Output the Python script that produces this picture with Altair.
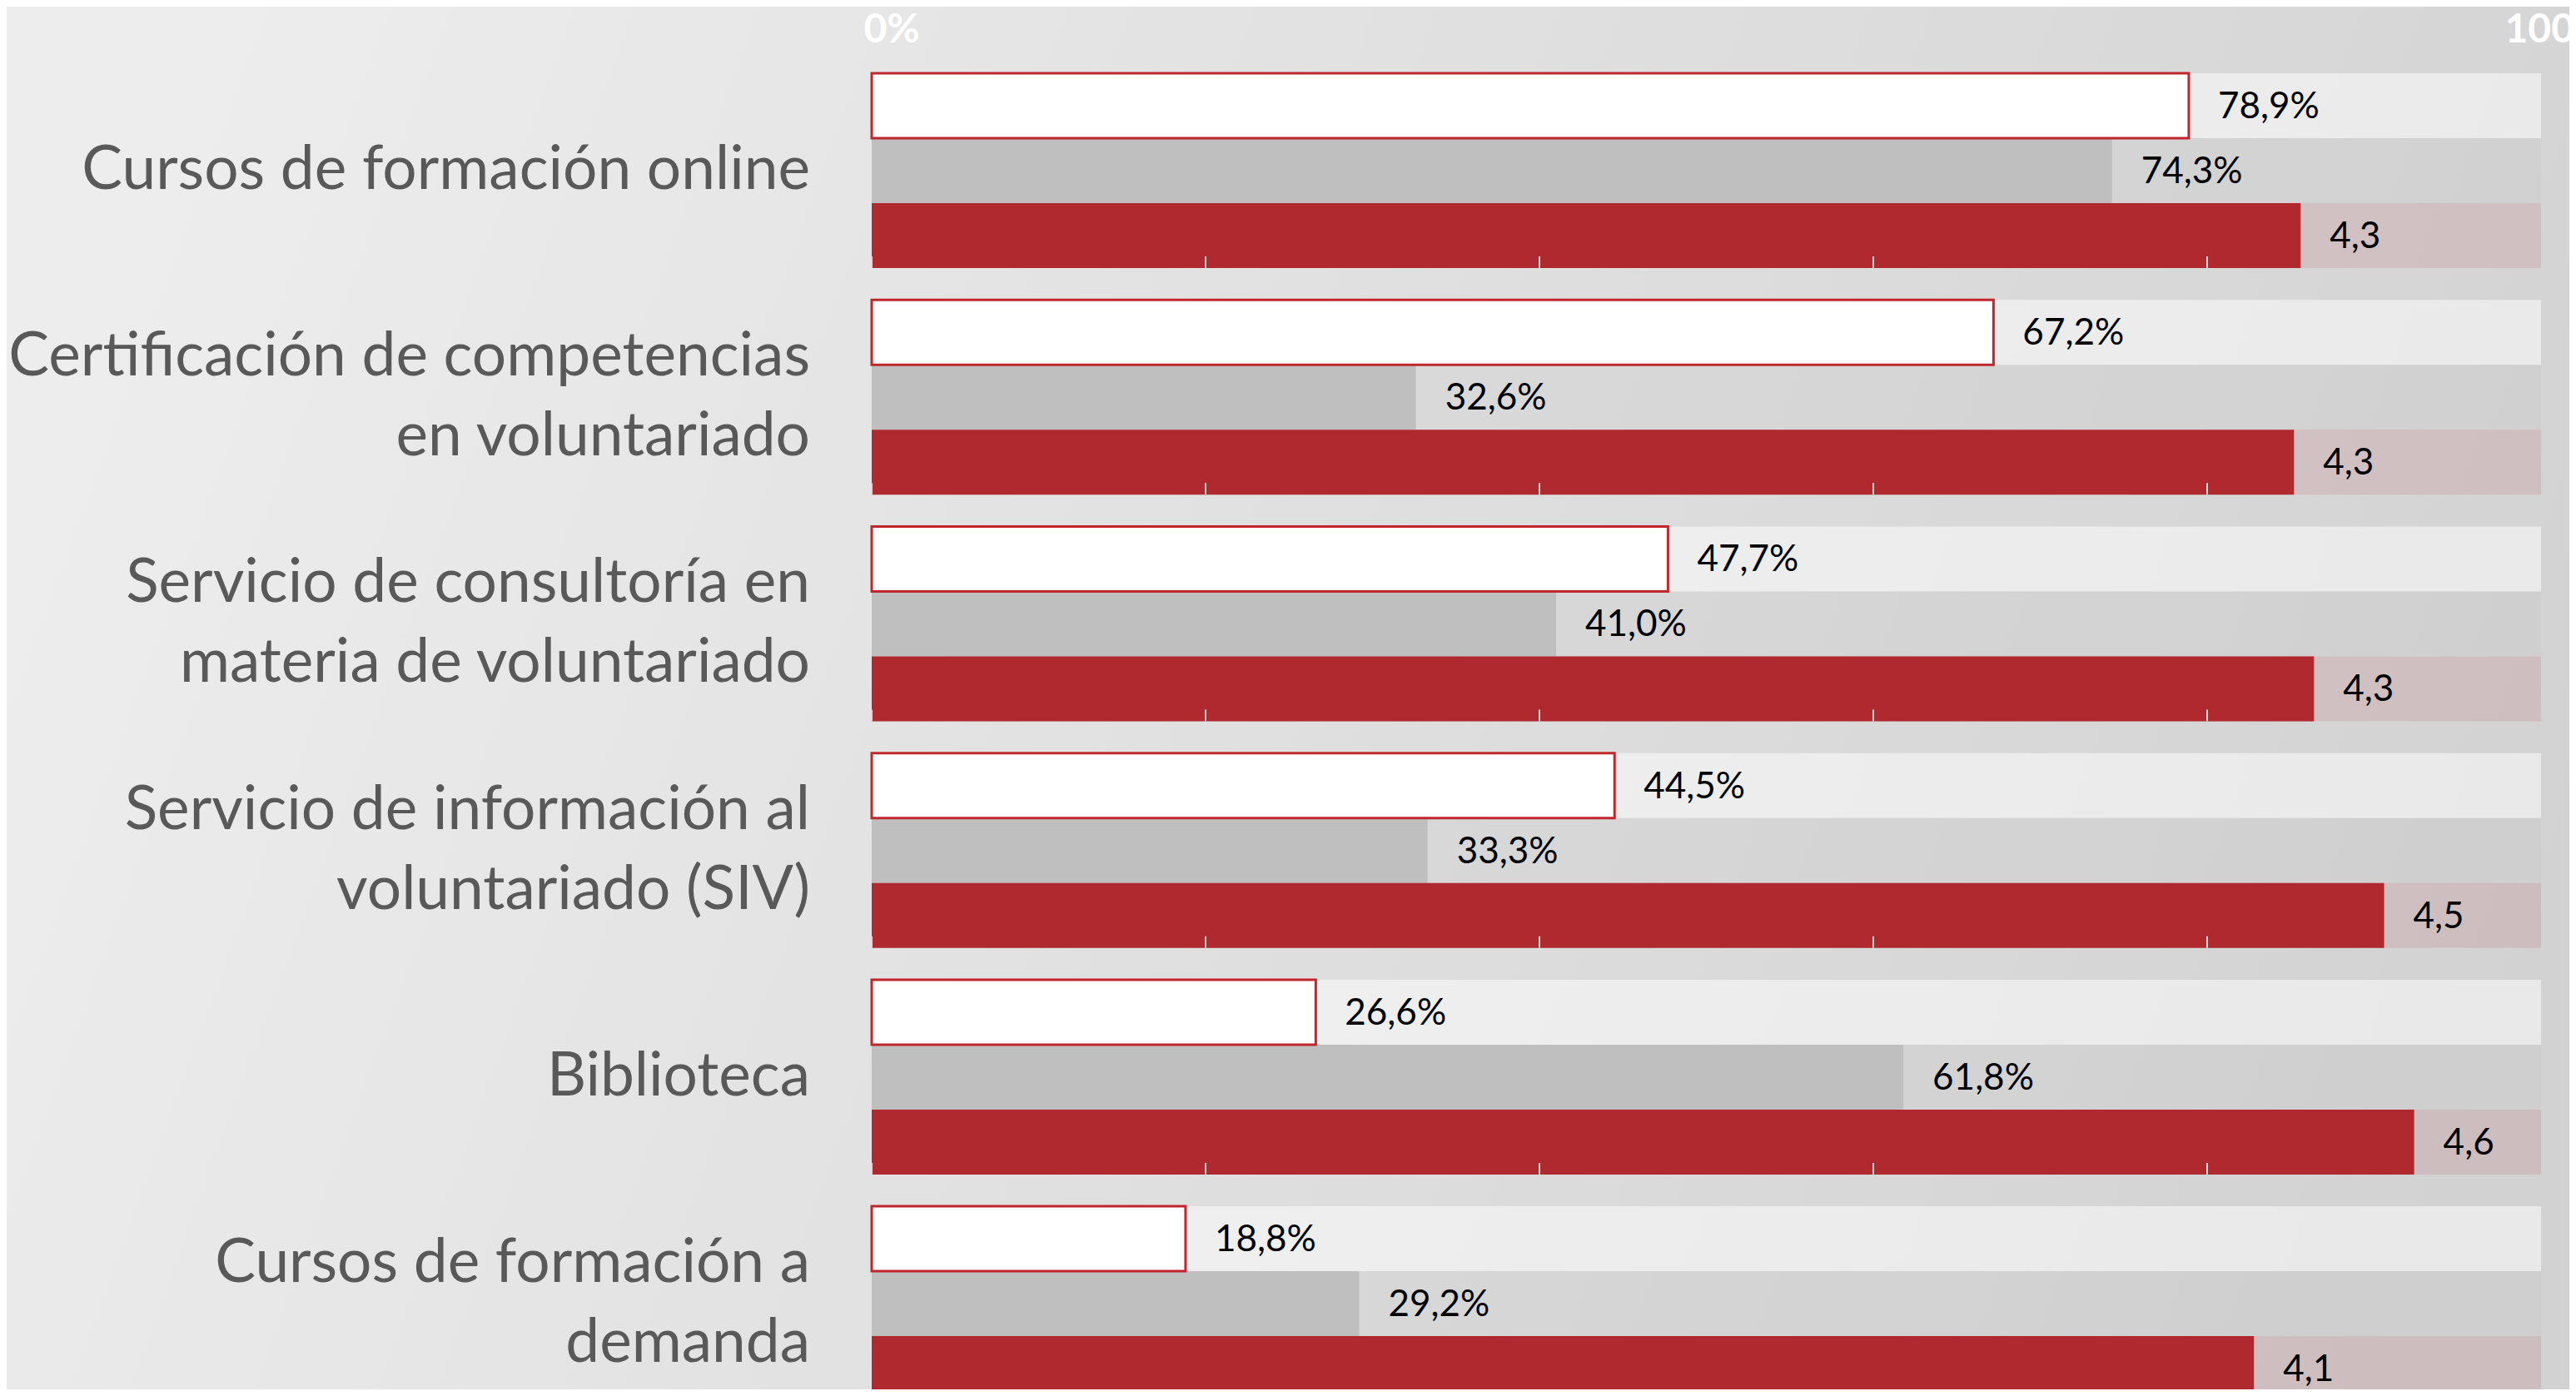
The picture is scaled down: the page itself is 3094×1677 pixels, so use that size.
import altair as alt
import pandas as pd

# ---------------- data ----------------
categories = [
    "Cursos de formación online",
    "Certificación de competencias\nen voluntariado",
    "Servicio de consultoría en\nmateria de voluntariado",
    "Servicio de información al\nvoluntariado (SIV)",
    "Biblioteca",
    "Cursos de formación a\ndemanda",
]
white_pct = [78.9, 67.2, 47.7, 44.5, 26.6, 18.8]   # white bars (%)
gray_pct = [74.3, 32.6, 41.0, 33.3, 61.8, 29.2]    # grey bars (%)
scores = [4.28, 4.26, 4.32, 4.53, 4.62, 4.14]      # red bars (scale 0-5)
score_ticks = [0, 1, 2, 3, 4]
axis_pct = [0, 100]

# ---------------- layout ----------------
GAP = 0.49            # gap between groups, in bar heights
PITCH = 3 + GAP
UNIT_PX = 78          # one bar height in px
W = 2005
H = 1581
D = H / UNIT_PX
PAD_L, PAD_T, PAD_R = 1039, 80, 34
CAT_SIZE = 73
CAT_LH = 96


def fmt(v):
    return f"{v:.1f}".replace(".", ",")


bar_rows, track_rows, cat_rows, tick_rows = [], [], [], []
for g, cat in enumerate(categories):
    top = g * PITCH
    for j, (val, lab) in enumerate([
        (white_pct[g], fmt(white_pct[g]) + "%"),
        (gray_pct[g], fmt(gray_pct[g]) + "%"),
        (scores[g], fmt(scores[g])),
    ]):
        bar_rows.append(dict(cat=cat, j=j, x0=0, val=val, label=lab,
                             y0=top + j, y1=top + j + 1, ym=top + j + 0.5))
        track_rows.append(dict(j=j, x0=0, x1=100, y0=top + j, y1=top + j + 1))
    cat_rows.append(dict(cat=cat, ym=top + 1.5, lines=cat.count("\n") + 1))
    for t in score_ticks:
        tick_rows.append(dict(t=t, ya=top + 3 - 14 / UNIT_PX, yb=top + 3))

bars = pd.DataFrame(bar_rows)
tracks = pd.DataFrame(track_rows)
cats = pd.DataFrame(cat_rows)
ticks = pd.DataFrame(tick_rows)

FONT = "Lato"
pct_scale = alt.Scale(domain=[0, 100], nice=False, zero=False)
score_scale = alt.Scale(domain=[0, 5], nice=False, zero=False)
yscale = alt.Scale(domain=[0, D], reverse=True, nice=False, zero=False)

Y0 = alt.Y("y0:Q", scale=yscale, axis=None)
YM = alt.Y("ym:Q", scale=yscale, axis=None)

# background gradient
bg = alt.Chart(pd.DataFrame({"a": [0]})).mark_rect(
    clip=False,
    fill=alt.Gradient(
        gradient="linear",
        stops=[alt.GradientStop(color="#ededed", offset=0),
               alt.GradientStop(color="#d2d2d2", offset=1)],
        x1=0, x2=1, y1=0.4, y2=0.6,
    ),
).encode(
    x=alt.value(-PAD_L), x2=alt.value(W + PAD_R),
    y=alt.value(-PAD_T), y2=alt.value(H + 20),
)

top_axis = alt.Axis(
    orient="top", values=axis_pct, labelExpr="datum.value + '%'",
    domain=False, ticks=False, grid=False, title=None, zindex=2,
    labelColor="white", labelFont=FONT, labelFontWeight="bold",
    labelFontSize=48, labelPadding=38, labelBaseline="alphabetic",
    labelAlign="left",
    labelOffset={"condition": {"test": "datum.value == 100", "value": -44}, "value": -10},
    labelFlush=False, labelOverlap=False,
)

track_a = alt.Chart(tracks).transform_filter("datum.j == 0").mark_rect(
    fill="white", fillOpacity=0.5
).encode(x=alt.X("x0:Q", scale=pct_scale, axis=top_axis), x2="x1:Q", y=Y0, y2="y1:Q")

track_b = alt.Chart(tracks).transform_filter("datum.j == 1").mark_rect(
    fill="#c4c4c4", fillOpacity=0.2
).encode(x=alt.X("x0:Q", scale=pct_scale, axis=None), x2="x1:Q", y=Y0, y2="y1:Q")

track_c = alt.Chart(tracks).transform_filter("datum.j == 2").mark_rect(
    fill="#b0292e", fillOpacity=0.12
).encode(x=alt.X("x0:Q", scale=pct_scale, axis=None), x2="x1:Q", y=Y0, y2="y1:Q")

gray_bars = alt.Chart(bars).transform_filter("datum.j == 1").mark_rect(
    fill="#bfbfbf"
).encode(x=alt.X("x0:Q", scale=pct_scale, axis=None), x2="val:Q", y=Y0, y2="y1:Q")

white_bars = alt.Chart(bars).transform_filter("datum.j == 0").mark_rect(
    fill="white", stroke="#c0272d", strokeWidth=3
).encode(x=alt.X("x0:Q", scale=pct_scale, axis=None), x2="val:Q", y=Y0, y2="y1:Q")

red_bars = alt.Chart(bars).transform_filter("datum.j == 2").mark_rect(
    fill="#b0292e"
).encode(x=alt.X("x0:Q", scale=score_scale, axis=None), x2="val:Q", y=Y0, y2="y1:Q")

tick_marks = alt.Chart(ticks).mark_rule(color="#dadada", strokeWidth=2).encode(
    x=alt.X("t:Q", scale=score_scale, axis=None),
    y=alt.Y("ya:Q", scale=yscale, axis=None), y2="yb:Q",
)

pct_labels = alt.Chart(bars).transform_filter("datum.j < 2").mark_text(
    align="left", baseline="middle", dx=35, dy=2, font=FONT, fontSize=44, color="black"
).encode(x=alt.X("val:Q", scale=pct_scale, axis=None), y=YM, text="label:N")

score_labels = alt.Chart(bars).transform_filter("datum.j == 2").mark_text(
    align="left", baseline="middle", dx=35, dy=2, font=FONT, fontSize=44, color="black"
).encode(x=alt.X("val:Q", scale=score_scale, axis=None), y=YM, text="label:N")

cat_one = alt.Chart(cats).transform_filter("datum.lines == 1").mark_text(
    align="right", baseline="middle", font=FONT, fontSize=CAT_SIZE, color="#595959",
    lineBreak="\n", lineHeight=CAT_LH,
).encode(x=alt.value(-74), y=YM, text="cat:N")

cat_two = alt.Chart(cats).transform_filter("datum.lines == 2").mark_text(
    align="right", baseline="middle", font=FONT, fontSize=CAT_SIZE, color="#595959",
    lineBreak="\n", lineHeight=CAT_LH, dy=-CAT_LH / 2,
).encode(x=alt.value(-74), y=YM, text="cat:N")

chart = alt.layer(
    bg, track_a, track_b, track_c, gray_bars, white_bars, red_bars,
    tick_marks, pct_labels, score_labels, cat_one, cat_two,
).resolve_scale(x="independent").properties(
    width=W, height=H,
    padding={"left": PAD_L, "top": PAD_T, "right": PAD_R, "bottom": 0},
    autosize=alt.AutoSizeParams(type="none"),
    background="#e2e2e2",
).configure_view(stroke=None)

chart.save("out.html", embed_options={"renderer": "svg", "actions": False})
